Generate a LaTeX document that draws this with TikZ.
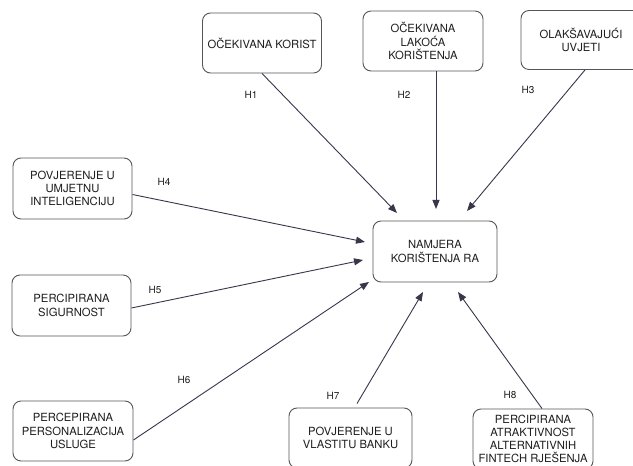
\documentclass[tikz,border=0pt]{standalone}
\usepackage{fontspec}
\setmainfont{TeX Gyre Heros}
\usetikzlibrary{arrows.meta}
\definecolor{boxline}{RGB}{85,85,90}
\definecolor{arrline}{RGB}{55,55,75}
\definecolor{txt}{RGB}{30,30,30}
\begin{document}
\begin{tikzpicture}[x=1bp,y=-1bp,
  concept/.style={draw=boxline, line width=0.9bp, rounded corners=8bp, minimum width=120bp, minimum height=60bp,
    inner sep=0pt, align=center, text=txt, font=\fontsize{11.3}{13.3}\selectfont},
  hyp/.style={text=txt, font=\fontsize{10}{12}\selectfont, inner sep=0pt},
  link/.style={draw=arrline, line width=0.9bp, -{Triangle[length=9bp,width=7bp]}}]
\useasboundingbox (0,0) rectangle (633,466);
\fill[white] (0,0) rectangle (633,466);
% boxes
\node[concept, minimum width=119bp] (A) at (262,43) {OČEKIVANA KORIST};
\node[concept] (B) at (423,41) {OČEKIVANA\\LAKOĆA\\KORIŠTENJA};
\node[concept, minimum height=59bp] (C) at (581,40) {OLAKŠAVAJUĆI\\UVJETI};
\node[concept, minimum width=124bp, minimum height=61bp] (N) at (435,251.5) {NAMJERA\\KORIŠTENJA RA};
\node[concept, minimum width=119bp, minimum height=61bp] (D) at (72.5,188.5) {POVJERENJE U\\UMJETNU\\INTELIGENCIJU};
\node[concept, minimum width=119bp, minimum height=61bp] (E) at (71.5,305.5) {PERCIPIRANA\\SIGURNOST};
\node[concept] (F) at (73,431) {PERCEPIRANA\\PERSONALIZACIJA\\USLUGE};
\node[concept, minimum width=123bp] (G) at (350.5,438) {POVJERENJE U\\VLASTITU BANKU};
\node[concept] (H) at (533,439) {PERCIPIRANA\\ATRAKTIVNOST\\ALTERNATIVNIH\\FINTECH RJEŠENJA};
% arrow tips
\coordinate (t1) at (397,213);
\coordinate (t2) at (436,209);
\coordinate (t3) at (467,211);
\coordinate (t4) at (365,242);
\coordinate (t5) at (363,260);
\coordinate (t6) at (369,282);
\coordinate (t7) at (423,292);
\coordinate (t8) at (458,292);
% connectors
\draw[link] (A.south) -- (t1);
\draw[link] (B.south -| t2) -- (t2);
\draw[link] ([xshift=4bp]C.south) -- (t3);
\draw[link] ([yshift=-6bp]D.east) -- (t4);
\draw[link] ([yshift=-2.5bp]E.east) -- (t5);
\draw[link] ([yshift=-9bp]F.east) -- (t6);
\draw[link] ([xshift=6.5bp,yshift=4bp]G.north) -- (t7);
\draw[link] ([xshift=9bp]H.north) -- (t8);
% labels
\node[hyp] (h1) at (251,95) {H1};
\node[hyp] (h2) at (404,95) {H2};
\node[hyp] (h3) at (528,90) {H3};
\node[hyp] (h4) at (164,182) {H4};
\node[hyp] (h5) at (155,290) {H5};
\node[hyp] (h6) at (184,380) {H6};
\node[hyp] (h7) at (333,396) {H7};
\node[hyp] (h8) at (510,395) {H8};
\end{tikzpicture}
\end{document}
